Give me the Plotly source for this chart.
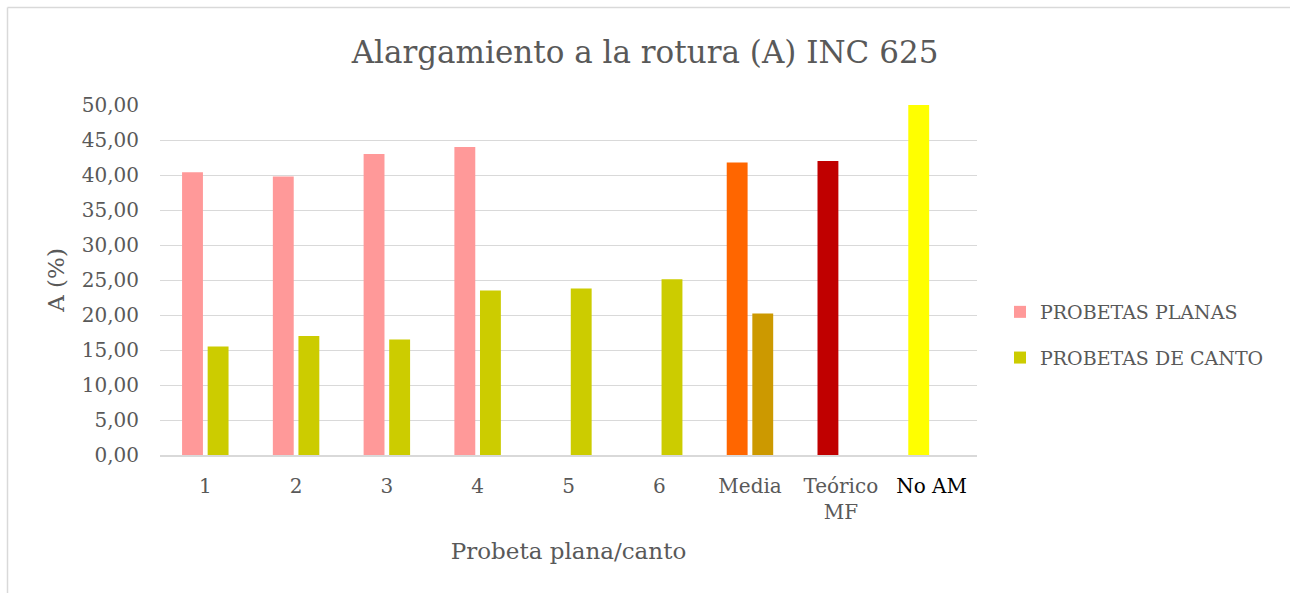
import plotly.graph_objects as go

# Category labels along the x axis
categories = ["1", "2", "3", "4", "5", "6", "Media", "Teórico MF", "No AM"]
tick_labels = ["1", "2", "3", "4", "5", "6", "Media", "Teórico<br>MF",
               "<span style='color:#000000'>No AM</span>"]

# Elongation at break (%) per specimen
planas = [40.4, 39.8, 43.0, 44.0, None, None, 41.8, 42.0, 50.0]
canto = [15.5, 17.0, 16.5, 23.5, 23.8, 25.1, 20.2, None, None]

# Bar colours per point
planas_colors = ["#FF9999"] * 6 + ["#FF6600", "#C00000", "#FFFF00"]
canto_colors = ["#CCCC00"] * 6 + ["#CC9900", "#CCCC00", "#CCCC00"]

y_ticks = [0, 5, 10, 15, 20, 25, 30, 35, 40, 45, 50]

FONT = "DejaVu Serif"
GREY_TEXT = "#595959"
GRID = "#D9D9D9"

fig = go.Figure()
fig.add_trace(go.Bar(
    x=categories, y=planas, name="PROBETAS PLANAS",
    marker=dict(color=planas_colors, line=dict(width=0)),
    width=0.23, offset=-0.257, legendgroup="a",
))
fig.add_trace(go.Bar(
    x=categories, y=canto, name="PROBETAS DE CANTO",
    marker=dict(color=canto_colors, line=dict(width=0)),
    width=0.23, offset=0.025, legendgroup="b",
))

L, R, T, B = 160, 313, 105, 138
W, H = 1290, 593
pw, ph = W - L - R, H - T - B


def px_x(p):
    return (p - L) / pw


def px_y(p):
    return (H - B - p) / ph


fig.update_layout(
    width=W, height=H,
    margin=dict(l=L, r=R, t=T, b=B, autoexpand=False),
    paper_bgcolor="white", plot_bgcolor="white",
    separators=",.",
    font=dict(family=FONT, color=GREY_TEXT, size=20),
    barmode="group",
    title=dict(
        text="Alargamiento a la rotura (A) INC 625",
        x=0.5, xref="container", xanchor="center",
        y=1 - 52 / H, yref="container", yanchor="middle",
        font=dict(family=FONT, size=31, color=GREY_TEXT),
    ),
    xaxis=dict(
        type="category",
        tickvals=categories, ticktext=tick_labels,
        showgrid=False, showline=True, linecolor=GRID, linewidth=1.5,
        ticks="", ticklabelstandoff=12,
        tickfont=dict(family=FONT, size=20, color=GREY_TEXT),
        title=dict(text="Probeta plana/canto", standoff=20,
                   font=dict(family=FONT, size=23, color=GREY_TEXT)),
    ),
    yaxis=dict(
        range=[0, 50], tickvals=y_ticks, tickformat=".2f",
        showgrid=True, gridcolor=GRID, gridwidth=1.3,
        zeroline=False, showline=False, ticks="", ticklabelstandoff=20,
        tickfont=dict(family=FONT, size=20, color=GREY_TEXT),
        title=dict(text="A (%)", standoff=10,
                   font=dict(family=FONT, size=23, color=GREY_TEXT)),
    ),
    legend=dict(
        x=px_x(1000), xanchor="left",
        y=px_y(335), yanchor="middle",
        font=dict(family=FONT, size=19, color=GREY_TEXT),
        tracegroupgap=18, itemwidth=30,
        bgcolor="rgba(0,0,0,0)",
    ),
    showlegend=True,
)

# Chart frame (top and left edges)
fig.add_shape(type="line", xref="paper", yref="paper",
              x0=px_x(7.5), x1=px_x(1300), y0=px_y(7.5), y1=px_y(7.5),
              line=dict(color=GRID, width=1.5))
fig.add_shape(type="line", xref="paper", yref="paper",
              x0=px_x(7.5), x1=px_x(7.5), y0=px_y(7.5), y1=px_y(600),
              line=dict(color=GRID, width=1.5))

fig.write_html("out.html")
